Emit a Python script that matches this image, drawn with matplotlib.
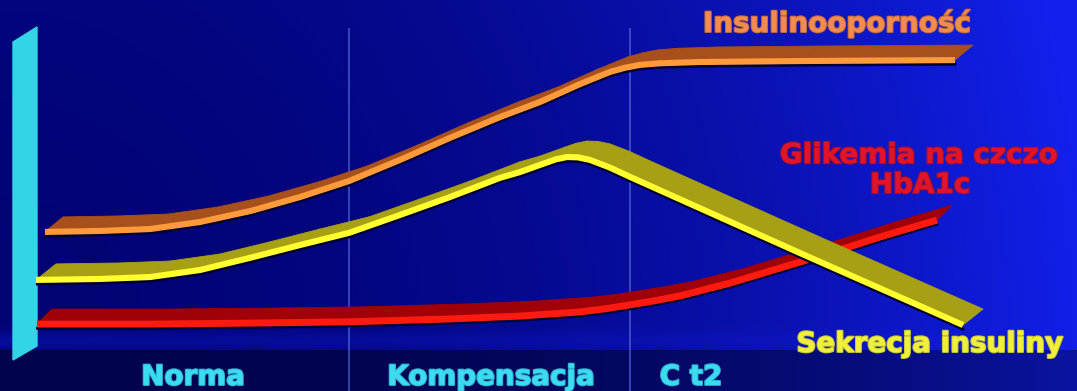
"""Insulinooporność / sekrecja insuliny / glikemia - schemat 3D."""

import matplotlib.pyplot as plt
import matplotlib.patheffects as pe
import matplotlib.transforms as mtrans
import numpy as np
from matplotlib.collections import PolyCollection

W, H = 1077, 391

# x: czas (0-100), y: poziom (0-100)
stage_names = ["Norma", "Kompensacja", "C t2"]
stage_x = [15.7, 45.5, 65.5]
stage_bounds = [31.3, 59.4]

ir_x = [0.9, 6.4, 11.4, 16.4, 21.4, 26.4, 31.3, 36.4, 41.4, 46.4, 50.4, 54.4, 57.4, 58.9, 60.4, 62.4, 66.4, 76.4, 91.9]
ir_y = [36.9, 37.2, 37.8, 40.0, 43.4, 47.8, 52.8, 59.4, 66.3, 72.8, 77.5, 83.1, 86.9, 88.2, 89.1, 89.6, 90.0, 90.3, 90.6]

sec_x = [0.0, 6.4, 11.4, 16.4, 21.4, 26.4, 31.3, 36.4, 41.4, 46.4, 48.4, 50.9, 52.0, 53.1, 54.2, 55.4, 57.4, 59.4, 76.4, 92.7]
sec_y = [21.9, 22.2, 22.8, 25.0, 28.8, 32.8, 36.6, 42.2, 47.8, 53.8, 55.6, 58.4, 59.6, 60.3, 60.2, 59.4, 57.0, 54.1, 30.3, 7.8]

gl_x = [0.1, 11.4, 21.4, 31.3, 41.4, 48.4, 54.4, 57.0, 59.4, 61.9, 64.4, 69.4, 74.4, 79.4, 84.4, 90.1]
gl_y = [8.1, 8.1, 8.4, 8.8, 9.7, 10.6, 11.9, 12.9, 14.1, 15.4, 16.9, 20.9, 25.6, 30.3, 35.3, 40.6]


def ribbon(ax, x, y, front, face, shift, z, lw=4.4):
    """Front edge as a thick line, top face as quads shifted back by `shift` pixels."""
    pos = ax.get_position()
    fig = ax.figure
    px_x = pos.width * fig.get_figwidth() * fig.dpi / 100.0
    px_y = pos.height * fig.get_figheight() * fig.dpi / 100.0
    dx, dy = shift[0] / px_x, shift[1] / px_y
    pts = np.column_stack([x, y])
    quads = []
    for i in range(len(pts) - 1):
        a, b = pts[i], pts[i + 1]
        quads.append([a, b, b + (dx, dy), a + (dx, dy)])
    ax.add_collection(PolyCollection(quads, facecolor=face, edgecolor=face,
                                     linewidth=0.6, zorder=z))
    down = mtrans.ScaledTranslation(0, -3 / 72, fig.dpi_scale_trans)
    ax.plot(x, y, color='#000030', lw=2, zorder=z + 0.1, transform=ax.transData + down)
    ax.plot(x, y, color=front, lw=lw, solid_capstyle='butt', solid_joinstyle='round', zorder=z + 0.2)


fig = plt.figure(figsize=(W / 100, H / 100), dpi=100)

# background (pixel coordinates)
bg = fig.add_axes([0, 0, 1, 1])
bg.set_xlim(0, W)
bg.set_ylim(H, 0)
bg.axis('off')
xx, yy = np.meshgrid(np.arange(W) / W, np.arange(H) / H)
w = 0.08 + 0.9 * xx ** 2 + 0.08 * (1 - yy) ** 2
w += 0.3 * np.exp(-((yy - 0.87) / 0.025) ** 2) * (1 - xx)
w = np.clip(w, 0, 1)
dark = np.array([0, 0, 105]) / 255
bright = np.array([18, 32, 235]) / 255
img = dark * (1 - w[..., None]) + bright * w[..., None]
floor = yy > 0.895
fw = 0.15 + 0.85 * xx ** 2.5
floor_dark = np.array([0, 0, 62]) / 255
floor_bright = np.array([10, 20, 160]) / 255
img[floor] = (floor_dark * (1 - fw[..., None]) + floor_bright * fw[..., None])[floor]
bg.imshow(img, extent=(0, W, H, 0), aspect='auto', zorder=0)

# cyan wall
bg.fill([13, 37, 37, 13], [42, 27, 346, 360], color='#33D4E6', zorder=1)

# main chart
ax = fig.add_axes([36 / W, 41 / H, 1000 / W, 320 / H])
ax.set_xlim(0, 100)
ax.set_ylim(0, 100)
ax.axis('off')
ax.patch.set_alpha(0)

for b in stage_bounds:
    ax.plot([b, b], [-13, 100.3], color='#5a70e0', lw=1.4, alpha=0.6, clip_on=False, zorder=1)

ribbon(ax, ir_x, ir_y, '#FF9A3A', '#A8501C', (18, 15), 3)
ribbon(ax, gl_x, gl_y, '#FF1A10', '#A00008', (15, 15), 4, lw=5)
ribbon(ax, sec_x, sec_y, '#FFFF30', '#A8A014', (20, 16), 5)

font = dict(family=['DejaVu Sans'], fontweight='bold', fontsize=20, ha='center', va='baseline',
            clip_on=False)


def label(x, y, s, color, edge):
    ax.text(x, y, s, color=color, zorder=10,
            path_effects=[pe.withStroke(linewidth=1.5, foreground=edge)], **font)


label(80.1, 99.4, "Insulinooporność", '#F08C50', '#C86A3A')
label(88.3, 58.4, "Glikemia na czczo", '#E0142A', '#B01020')
label(88.4, 49.1, "HbA1c", '#E0142A', '#B01020')
label(89.4, -0.6, "Sekrecja insuliny", '#F0F03C', '#C8C830')
for sx, name in zip(stage_x, stage_names):
    label(sx, -10.9, name, '#3CDCF0', '#30B0D0')

fig.savefig('out.png', dpi=100)
